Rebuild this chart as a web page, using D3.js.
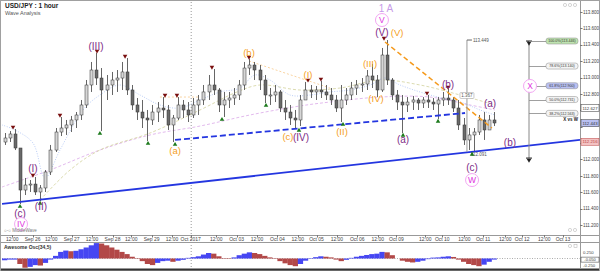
<!DOCTYPE html>
<html>
<head>
<meta charset="utf-8">
<script src="https://cdn.jsdelivr.net/npm/d3@7"></script>
<style>
body { margin: 0; background: #fff; }
svg { display: block; font-family: "Liberation Sans", Arial, sans-serif; }
</style>
</head>
<body>
<div id="chart"></div>
<script>
// ---- data (hour index from Sep 25 06:00, prices in yen) ----
var candleHours = 3;
var firstOpen = 112.213;
var highs = [112.323,112.347,112.372,112.140,111.774,111.749,111.786,111.688,111.871,112.177,
  112.384,112.518,112.482,112.531,112.579,112.726,112.970,113.190,113.300,113.116,
  113.031,113.068,113.092,113.190,113.238,112.909,112.750,112.726,112.604,112.665,
  112.701,112.762,112.665,112.543,112.762,112.726,112.701,112.750,112.787,112.909,
  113.031,113.104,112.872,112.824,112.824,112.872,112.970,113.190,113.226,113.190,
  113.153,113.031,112.872,112.909,112.848,112.726,112.665,112.604,112.787,112.946,
  112.909,112.897,112.958,112.909,112.872,112.787,112.909,112.872,112.946,112.970,
  112.994,113.092,113.165,113.031,113.361,113.458,112.994,112.848,112.787,112.762,
  112.775,112.750,112.762,112.787,112.750,112.762,112.824,112.860,112.762,112.726,
  112.506,112.384,112.384,112.543,112.579,112.543,112.579];
var lows = [112.177,112.213,112.115,111.456,111.566,111.603,111.566,111.493,111.603,111.810,
  112.091,112.286,112.299,112.335,112.384,112.482,112.628,112.824,112.909,112.347,
  112.726,112.787,112.824,112.848,112.787,112.604,112.482,112.384,112.225,112.421,
  112.457,112.506,112.360,112.213,112.482,112.506,112.457,112.506,112.543,112.665,
  112.726,112.787,112.579,112.518,112.628,112.665,112.726,112.848,113.031,112.970,
  112.848,112.689,112.665,112.701,112.579,112.482,112.421,112.384,112.408,112.726,
  112.750,112.726,112.750,112.726,112.665,112.579,112.457,112.665,112.726,112.787,
  112.824,112.848,112.872,112.762,112.824,112.909,112.726,112.604,112.323,112.579,
  112.604,112.604,112.628,112.628,112.604,112.494,112.653,112.665,112.579,112.360,
  112.177,112.115,112.091,112.299,112.238,112.360,112.408];
var closes = [112.262,112.311,112.140,111.627,111.688,111.700,111.603,111.652,111.847,112.115,
  112.335,112.384,112.421,112.482,112.543,112.665,112.909,113.092,112.994,112.848,
  112.909,112.970,112.994,113.068,112.848,112.665,112.579,112.506,112.482,112.579,
  112.628,112.604,112.421,112.506,112.665,112.604,112.543,112.665,112.726,112.824,
  112.909,112.848,112.665,112.726,112.750,112.787,112.909,113.116,113.153,113.092,
  112.970,112.787,112.787,112.824,112.628,112.579,112.506,112.482,112.726,112.848,
  112.824,112.848,112.824,112.787,112.726,112.628,112.726,112.787,112.872,112.909,
  112.921,113.019,112.970,112.848,113.275,112.970,112.787,112.701,112.665,112.701,
  112.726,112.689,112.726,112.701,112.677,112.726,112.750,112.726,112.628,112.421,
  112.238,112.299,112.335,112.482,112.360,112.482,112.445];
var aoValues = [-0.08,-0.05,-0.05,-0.25,-0.42,-0.38,-0.30,-0.32,-0.20,-0.05,
  0.12,0.30,0.36,0.33,0.35,0.42,0.50,0.60,0.70,0.68,
  0.60,0.50,0.40,0.30,0.20,0.08,-0.02,-0.12,-0.25,-0.30,
  -0.20,-0.12,-0.10,-0.15,-0.10,-0.06,0.03,0.06,0.10,0.18,
  0.25,0.22,0.10,0.02,-0.02,0.05,0.15,0.22,0.28,0.25,
  0.20,0.12,0.05,-0.02,-0.12,-0.22,-0.30,-0.35,-0.25,-0.10,
  0.02,0.06,0.10,0.08,0.05,-0.05,-0.12,-0.06,0.03,0.08,
  0.12,0.16,0.20,0.22,0.30,0.28,0.15,0.00,-0.10,-0.15,
  -0.18,-0.15,-0.10,-0.03,0.04,0.05,0.08,0.10,0.07,-0.05,
  -0.15,-0.25,-0.30,-0.35,-0.28,-0.15,-0.05];

var timeTickHours = [6,18,29,41,53,65,76,88,100,111,126,138,150,162,174,185,197,209,221,232,249,259,272,283,296,306,319,330];
var timeTickLabels = ["12:00","Sep 26","12:00","Sep 27","12:00","Sep 28","12:00","Sep 29","12:00","Oct 2017",
  "12:00","Oct 03","12:00","Oct 04","12:00","Oct 05","12:00","Oct 06","12:00","Oct 09",
  "12:00","Oct 10","12:00","Oct 11","12:00","Oct 12","12:00","Oct 13"];
var priceTicks = [111.2,111.4,111.6,111.8,112.0,112.2,112.4,112.6,112.8,113.0,113.2,113.4,113.6,113.8];
var aoTicks = [0.25,-0.25];

var highMarks = [[6.5,112.372],[18.2,111.786],[34.1,112.518],[55.9,113.300],[72.4,113.238],[95.9,112.762],
  [102.9,112.762],[123.5,113.104],[145.3,113.226],[180,112.946],[187.6,112.958],[224.7,113.458],
  [250,112.787],[262.4,112.860]];
var lowMarks = [[10.6,111.456],[22.4,111.493],[57.6,112.347],[85.9,112.225],[101.8,112.213],[129.4,112.518],
  [155.3,112.689],[174.7,112.384],[200.6,112.457],[235.9,112.323],[256.5,112.494],[276.5,112.091]];

var purpleLabels = [[55.3,113.373,"(III)"],[18.2,111.884,"(I)"],[10.6,111.346,"(c)"],[22.9,111.420,"(II)"],
  [175.9,112.274,"(IV)"],[223.5,113.544,"(V)"],[235.9,112.238,"(a)"],[262.4,112.921,"(b)"],
  [276.5,111.896,"(c)"],[287.1,112.689,"(a)"],[298.8,112.213,"(b)"]];
var orangeLabels = [[101.8,112.115,"(a)"],[145.3,113.300,"(b)"],[168.2,112.286,"(c)"],[180,113.043,"(I)"],
  [200,112.347,"(II)"],[216.5,113.177,"(III)"],[220,112.750,"(IV)"],[232.4,113.544,"(V)"]];
var circledLabels = [[223.5,113.702,"V"],[11.2,111.212,"IV"],[276.5,111.749,"W"],[310.6,112.897,"X"]];

var supportLine = [[0,111.459],[340,112.238]];
var dashedBlue = [[101.8,112.238],[272.4,112.567]];
var dashedOrange = [[225.3,113.434],[288.2,112.384]];
var dottedOrange = [[145.3,113.202],[192.9,112.872]];
var dottedOrange2 = [[92.9,112.762],[116.5,112.762]];

var maFastHours = [0,7.6,18.2,25.3,34.1,47.6,57.6,69.4,81.2,92.9,104.7,116.5,128.2,140,148.8,157.6,169.4,181.2,192.9,204.7,216.5,225.3,234.1,251.8,271.2,281.2,290];
var maFast = [112.421,112.360,112.201,111.774,112.115,112.604,112.787,112.909,112.787,112.665,112.628,112.726,112.824,112.872,113.031,112.970,112.787,112.787,112.824,112.848,112.909,112.994,112.909,112.787,112.689,112.604,112.543];
var maSlowHours = [0,28.2,57.6,87.1,116.5,145.9,175.3,192.9,222.4,251.8,275.3,290];
var maSlow = [111.664,111.871,112.115,112.299,112.408,112.543,112.653,112.701,112.762,112.762,112.665,112.604];
var maMidHours = [22.4,40,57.6,87.1,116.5,138.2,151.8,175.3,198.8,222.4,245.9,269.4,290];
var maMid = [111.505,111.871,112.115,112.323,112.604,112.824,112.909,112.848,112.872,112.970,112.909,112.787,112.665];

var fibHigh = 113.446, fibLow = 112.017, fibHour = 310;
var fibLevels = [1.0, 0.786, 0.618, 0.5, 0.382];
var fibFills = ["#bfe3b0","#f4f4f4","#b9c0f2","#f4f4f4","#f4f4f4"];
var axisBoxes = [[112.627,"112.627","#ffffff","#333"],[112.443,"112.443","#b9c0f2","#333"],[112.216,"112.216","#f3c2c2","#b44"]];

// ---- drawing ----
var W = 600, H = 271;
var svg = d3.select("#chart").append("svg").attr("width", W).attr("height", H);

var x = d3.scaleLinear().domain([0, 340]).range([2, 580]);
var y = d3.scaleLinear().domain([111.2, 113.8]).range([225, 12]);
var yo = d3.scaleLinear().domain([-0.25, 0.25]).range([264, 253]);

svg.append("defs").append("clipPath").attr("id", "main")
  .append("rect").attr("x", 2).attr("y", 2).attr("width", 578).attr("height", 233);

// frames
svg.append("rect").attr("x", 0.5).attr("y", 0.5).attr("width", 599).attr("height", 270)
  .attr("fill", "none").attr("stroke", "#a0a0a0");
svg.append("line").attr("x1", 1).attr("x2", 599).attr("y1", 269.5).attr("y2", 269.5)
  .attr("stroke", "#333").attr("stroke-width", 2);
svg.append("line").attr("x1", 1).attr("x2", 599).attr("y1", 235.5).attr("y2", 235.5).attr("stroke", "#999");
svg.append("line").attr("x1", 1).attr("x2", 599).attr("y1", 242.5).attr("y2", 242.5).attr("stroke", "#999");
svg.append("line").attr("x1", 580.5).attr("x2", 580.5).attr("y1", 1).attr("y2", 269).attr("stroke", "#999");

// month separator
svg.append("line").attr("x1", x(timeTickHours[9]) + 0.5).attr("x2", x(timeTickHours[9]) + 0.5)
  .attr("y1", 2).attr("y2", 268).attr("stroke", "#999").attr("stroke-dasharray", "1,2");

// title
svg.append("text").attr("x", 5).attr("y", 8).attr("font-size", 6.5).attr("font-weight", "bold")
  .attr("fill", "#222").text("USD/JPY : 1 hour");
svg.append("text").attr("x", 5).attr("y", 14.5).attr("font-size", 5.5).attr("fill", "#555").text("Wave Analysis");

// corner icons
[0, 1, 2].forEach(function(k) {
  svg.append("circle").attr("cx", 565 + k * 5).attr("cy", 5).attr("r", 1.6)
    .attr("fill", "none").attr("stroke", "#bbb").attr("stroke-width", 0.6);
});
[0, 1].forEach(function(k) {
  svg.append("circle").attr("cx", 570 + k * 5).attr("cy", 230).attr("r", 1.6)
    .attr("fill", "none").attr("stroke", "#bbb").attr("stroke-width", 0.6);
});
svg.append("circle").attr("cx", 570).attr("cy", 246).attr("r", 1.6).attr("fill", "none").attr("stroke", "#bbb").attr("stroke-width", 0.6);
svg.append("rect").attr("x", 574).attr("y", 244.5).attr("width", 3).attr("height", 3).attr("fill", "none").attr("stroke", "#bbb").attr("stroke-width", 0.6);

// price axis (labels hidden where a value box sits, as in the reference)
function underBox(p) {
  return axisBoxes.some(function(b) { return Math.abs(y(b[0]) - y(p)) < 7; });
}
var pAxis = svg.append("g");
pAxis.selectAll("line").data(priceTicks).enter().append("line")
  .attr("x1", 580).attr("x2", 582.5).attr("y1", function(d) { return Math.round(y(d)) + 0.5; })
  .attr("y2", function(d) { return Math.round(y(d)) + 0.5; }).attr("stroke", "#777");
pAxis.selectAll("text").data(priceTicks.filter(function(p) { return !underBox(p); })).enter().append("text")
  .attr("x", 583).attr("y", function(d) { return y(d) + 1.7; })
  .attr("font-size", 4.5).attr("fill", "#444").text(function(d) { return d.toFixed(3); });

// time axis
var tAxis = svg.append("g");
tAxis.selectAll("line").data(timeTickHours).enter().append("line")
  .attr("x1", function(d) { return Math.round(x(d)) + 0.5; }).attr("x2", function(d) { return Math.round(x(d)) + 0.5; })
  .attr("y1", 235).attr("y2", 237.5).attr("stroke", "#777");
tAxis.selectAll("text").data(timeTickHours).enter().append("text")
  .attr("x", function(d) { return x(d); }).attr("y", 241)
  .attr("text-anchor", "middle").attr("font-size", 5).attr("fill", "#444")
  .text(function(d, i) { return timeTickLabels[i]; });

var plot = svg.append("g").attr("clip-path", "url(#main)");

// moving averages
function pts(hours, vals) { return hours.map(function(h, i) { return [h, vals[i]]; }); }
var line = d3.line().x(function(d) { return x(d[0]); }).y(function(d) { return y(d[1]); });
var curve = d3.line().curve(d3.curveCatmullRom).x(function(d) { return x(d[0]); }).y(function(d) { return y(d[1]); });
plot.append("path").attr("d", curve(pts(maSlowHours, maSlow))).attr("fill", "none")
  .attr("stroke", "#dba8e8").attr("stroke-width", 0.8).attr("stroke-dasharray", "3,2");
plot.append("path").attr("d", curve(pts(maMidHours, maMid))).attr("fill", "none")
  .attr("stroke", "#d2d29c").attr("stroke-width", 0.8).attr("stroke-dasharray", "3,2");
plot.append("path").attr("d", curve(pts(maFastHours, maFast))).attr("fill", "none")
  .attr("stroke", "#a8c0f4").attr("stroke-width", 0.8).attr("stroke-dasharray", "1,1.5");
plot.append("path").attr("d", line(dottedOrange)).attr("fill", "none")
  .attr("stroke", "#f7c98a").attr("stroke-width", 0.8).attr("stroke-dasharray", "2,2");
plot.append("path").attr("d", line(dottedOrange2)).attr("fill", "none")
  .attr("stroke", "#f7c98a").attr("stroke-width", 0.8).attr("stroke-dasharray", "2,2");

// candles
var candles = closes.map(function(c, i) {
  return { h: (i + 0.5) * candleHours, o: i === 0 ? firstOpen : closes[i - 1], c: c, hi: highs[i], lo: lows[i] };
});
var cg = plot.append("g");
cg.selectAll("line").data(candles).enter().append("line")
  .attr("x1", function(d) { return Math.round(x(d.h)) + 0.5; })
  .attr("x2", function(d) { return Math.round(x(d.h)) + 0.5; })
  .attr("y1", function(d) { return y(d.hi); }).attr("y2", function(d) { return y(d.lo); })
  .attr("stroke", "#555").attr("stroke-width", 0.9);
cg.selectAll("rect").data(candles).enter().append("rect")
  .attr("x", function(d) { return Math.round(x(d.h)) - 1; })
  .attr("width", 3)
  .attr("y", function(d) { return y(Math.max(d.o, d.c)); })
  .attr("height", function(d) { return Math.max(1, Math.abs(y(d.o) - y(d.c))); })
  .attr("fill", function(d) { return d.c >= d.o ? "#d6d6d6" : "#6a6a6a"; })
  .attr("stroke", "#333").attr("stroke-width", 0.5);

// trend lines
plot.append("path").attr("d", line(supportLine)).attr("stroke", "#2436e0").attr("stroke-width", 1.8).attr("fill", "none");
plot.append("path").attr("d", line(dashedBlue)).attr("stroke", "#2436e0").attr("stroke-width", 1.8)
  .attr("stroke-dasharray", "6,3").attr("fill", "none");
plot.append("path").attr("d", line(dashedOrange)).attr("stroke", "#f59a1c").attr("stroke-width", 1.5)
  .attr("stroke-dasharray", "5,3").attr("fill", "none");

// measurement line from the V top to the W low
var mTop = highMarks[11][1], mBot = lowMarks[11][1];
plot.append("line").attr("x1", x(273.5)).attr("x2", x(273.5)).attr("y1", y(mTop)).attr("y2", y(mBot))
  .attr("stroke", "#999").attr("stroke-width", 1);
plot.append("line").attr("x1", x(273.5)).attr("x2", x(273.5) + 5).attr("y1", y(mTop)).attr("y2", y(mTop)).attr("stroke", "#666");
plot.append("text").attr("x", x(273.5) + 6).attr("y", y(mTop) + 1.5).attr("font-size", 4.5).attr("fill", "#555").text("113.449");
plot.append("rect").attr("x", x(273.5) - 7).attr("y", y((mTop + mBot) / 2) - 3.5).attr("width", 14).attr("height", 6)
  .attr("fill", "#fff").attr("stroke", "#999").attr("stroke-width", 0.5).attr("rx", 1);
plot.append("text").attr("x", x(273.5)).attr("y", y((mTop + mBot) / 2) + 1).attr("text-anchor", "middle")
  .attr("font-size", 4.5).attr("fill", "#555").text((mTop - mBot).toFixed(3));
plot.append("text").attr("x", x(273.5) + 4).attr("y", y(mBot) + 4).attr("font-size", 4.5).attr("fill", "#555").text(mBot.toFixed(3));

// fibonacci tool
var fx = x(fibHour);
plot.append("line").attr("x1", fx).attr("x2", fx).attr("y1", y(fibHigh)).attr("y2", y(fibLow))
  .attr("stroke", "#888").attr("stroke-width", 1);
[fibHigh, fibLow].forEach(function(p) {
  plot.append("line").attr("x1", fx - 3).attr("x2", fx + 3).attr("y1", y(p)).attr("y2", y(p)).attr("stroke", "#222");
  plot.append("path").attr("d", d3.symbol(d3.symbolTriangle, 10)()).attr("fill", "#222")
    .attr("transform", "translate(" + fx + "," + (y(p) + 2) + ") rotate(180)");
});
fibLevels.forEach(function(l, i) {
  var p = fibLow + (fibHigh - fibLow) * l;
  plot.append("line").attr("x1", fx).attr("x2", 546).attr("y1", Math.round(y(p)) + 0.5).attr("y2", Math.round(y(p)) + 0.5)
    .attr("stroke", "#888").attr("stroke-width", 0.8);
  plot.append("rect").attr("x", 546).attr("y", y(p) - 3).attr("width", 32).attr("height", 6).attr("rx", 2.5)
    .attr("fill", fibFills[i]).attr("stroke", "#888").attr("stroke-width", 0.5);
  plot.append("text").attr("x", 562).attr("y", y(p) + 1.3).attr("text-anchor", "middle").attr("font-size", 3.6)
    .attr("fill", "#333").text((l * 100).toFixed(1) + "%(" + p.toFixed(3) + ")");
});
plot.append("text").attr("x", 578).attr("y", y(fibLow + (fibHigh - fibLow) * 0.382) + 8).attr("text-anchor", "end")
  .attr("font-size", 4.5).attr("font-weight", "bold").attr("fill", "#222").text("X vs W");

// swing markers
var tri = d3.symbol(d3.symbolTriangle, 9);
plot.selectAll(".hm").data(highMarks).enter().append("path").attr("class", "hm").attr("d", tri())
  .attr("fill", "#7a1010")
  .attr("transform", function(d) { return "translate(" + x(d[0]) + "," + (y(d[1]) - 2) + ") rotate(180)"; });
plot.selectAll(".lm").data(lowMarks).enter().append("path").attr("class", "lm").attr("d", tri())
  .attr("fill", "#1c7a1c")
  .attr("transform", function(d) { return "translate(" + x(d[0]) + "," + (y(d[1]) + 2.5) + ")"; });

// wave labels
function labels(data, color, size) {
  plot.append("g").selectAll("text").data(data).enter().append("text")
    .attr("x", function(d) { return x(d[0]); }).attr("y", function(d) { return y(d[1]); })
    .attr("text-anchor", "middle").attr("dominant-baseline", "central")
    .attr("font-size", size).attr("fill", color).text(function(d) { return d[2]; });
}
labels(orangeLabels, "#f5a024", 9.5);
labels(purpleLabels, "#7d2c86", 10);
var cl = plot.append("g").selectAll("g").data(circledLabels).enter().append("g")
  .attr("transform", function(d) { return "translate(" + x(d[0]) + "," + y(d[1]) + ")"; });
cl.append("circle").attr("r", 6.5).attr("fill", "#fff").attr("stroke", "#f3a6f3").attr("stroke-width", 1);
cl.append("text").attr("text-anchor", "middle").attr("dominant-baseline", "central")
  .attr("font-size", 8.5).attr("fill", "#e032e0").text(function(d) { return d[2]; });
svg.append("text").attr("x", x(circledLabels[0][0]) + 4).attr("y", 8).attr("text-anchor", "middle")
  .attr("dominant-baseline", "central").attr("font-size", 10).attr("fill", "#c79be8").text("1 A");

// indicator legend
svg.append("text").attr("x", 4).attr("y", 232).attr("font-size", 4.5).attr("fill", "#777").text("○-○ MiddleWave");

// price axis boxes
axisBoxes.forEach(function(b) {
  svg.append("rect").attr("x", 581).attr("y", y(b[0]) - 3.5).attr("width", 18).attr("height", 7)
    .attr("fill", b[2]).attr("stroke", b[3]).attr("stroke-width", 0.5);
  svg.append("text").attr("x", 590).attr("y", y(b[0]) + 1.6).attr("text-anchor", "middle")
    .attr("font-size", 4.3).attr("fill", b[3]).text(b[1]);
});

// awesome oscillator
svg.append("text").attr("x", 4).attr("y", 249).attr("font-size", 5).attr("font-weight", "bold").attr("fill", "#333")
  .text("Awesome Osc(34,5)");
svg.append("line").attr("x1", 2).attr("x2", 580).attr("y1", yo(0)).attr("y2", yo(0))
  .attr("stroke", "#888").attr("stroke-dasharray", "1,1.5").attr("stroke-width", 0.7);
var bw = x(candleHours) - x(0);
svg.append("g").selectAll("rect").data(aoValues).enter().append("rect")
  .attr("x", function(d, i) { return x(i * candleHours); })
  .attr("width", bw + 0.2)
  .attr("y", function(d) { return Math.min(yo(d), yo(0)); })
  .attr("height", function(d) { return Math.abs(yo(d) - yo(0)); })
  .attr("fill", function(d, i) { return i > 0 && d < aoValues[i - 1] ? "#b24848" : "#4646f2"; });
svg.append("g").selectAll("text").data(aoTicks).enter().append("text")
  .attr("x", 583).attr("y", function(d) { return yo(d) + (d > 0 ? 0.5 : 3); }).attr("font-size", 4.3).attr("fill", "#444")
  .text(function(d) { return d.toFixed(3); });
var lastAo = aoValues[aoValues.length - 1];
svg.append("rect").attr("x", 581).attr("y", yo(lastAo) - 2.5).attr("width", 18).attr("height", 5)
  .attr("fill", "#fff").attr("stroke", "#333").attr("stroke-width", 0.5);
svg.append("text").attr("x", 590).attr("y", yo(lastAo) + 1.5).attr("text-anchor", "middle").attr("font-size", 4)
  .attr("fill", "#333").text(lastAo.toFixed(3));
</script>
</body>
</html>
